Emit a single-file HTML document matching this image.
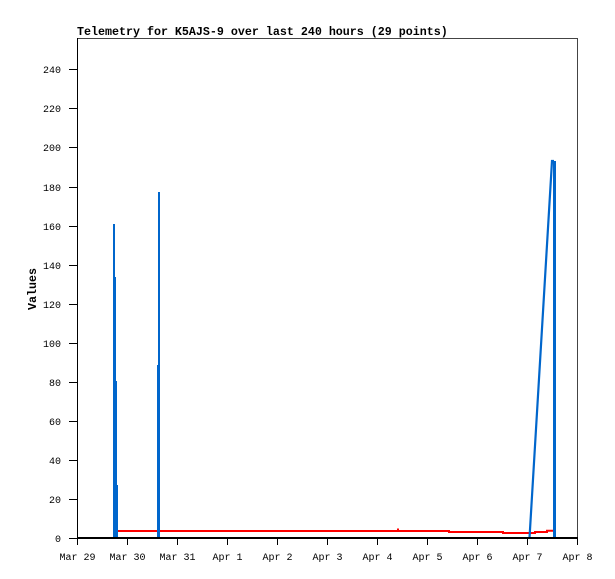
<!DOCTYPE html>
<html><head><meta charset="utf-8"><style>
html,body{margin:0;padding:0;background:#fff;}
svg{display:block;}
text{font-family:"Liberation Mono","DejaVu Sans Mono",monospace;fill:#000;}
</style></head><body>
<svg width="615" height="579" viewBox="0 0 615 579" xmlns="http://www.w3.org/2000/svg">
<rect width="615" height="579" fill="#fff"/>
<text x="77" y="35" font-size="11.67" font-weight="bold">Telemetry for K5AJS-9 over last 240 hours (29 points)</text>
<g shape-rendering="crispEdges">
<rect x="77" y="38" width="501" height="1" fill="#444"/>
<rect x="577" y="38" width="1" height="501" fill="#444"/>
<rect x="77" y="38" width="1" height="501" fill="#000"/>
</g>
<g shape-rendering="crispEdges" fill="#000">
<rect x="69" y="538" width="8" height="1"/>
<rect x="69" y="499" width="8" height="1"/>
<rect x="69" y="460" width="8" height="1"/>
<rect x="69" y="421" width="8" height="1"/>
<rect x="69" y="382" width="8" height="1"/>
<rect x="69" y="343" width="8" height="1"/>
<rect x="69" y="304" width="8" height="1"/>
<rect x="69" y="265" width="8" height="1"/>
<rect x="69" y="226" width="8" height="1"/>
<rect x="69" y="187" width="8" height="1"/>
<rect x="69" y="147" width="8" height="1"/>
<rect x="69" y="108" width="8" height="1"/>
<rect x="69" y="69" width="8" height="1"/>
</g>
<g font-size="10" text-anchor="end">
<text x="61" y="542">0</text>
<text x="61" y="503">20</text>
<text x="61" y="464">40</text>
<text x="61" y="425">60</text>
<text x="61" y="386">80</text>
<text x="61" y="347">100</text>
<text x="61" y="308">120</text>
<text x="61" y="269">140</text>
<text x="61" y="230">160</text>
<text x="61" y="191">180</text>
<text x="61" y="151">200</text>
<text x="61" y="112">220</text>
<text x="61" y="73">240</text>
</g>
<text transform="translate(36,289) rotate(-90)" font-size="11.67" font-weight="bold" text-anchor="middle">Values</text>
<path d="M114,531 H449 V532 H503 V533 H535 V532 H547 V530.7 H553" fill="none" stroke="#ff0000" stroke-width="2"/>
<rect x="397" y="528.5" width="2" height="2" fill="#ff0000"/>
<g fill="#0066cc" shape-rendering="crispEdges">
<rect x="113" y="224" width="2" height="314"/>
<rect x="114" y="277" width="2" height="261"/>
<rect x="115" y="381" width="2" height="104"/>
<rect x="116" y="485" width="2" height="53"/>
<rect x="158" y="192" width="2" height="346"/>
<rect x="157" y="365" width="2" height="173"/>
<rect x="553" y="161" width="3" height="377"/>
</g>
<path d="M529.5,538 L552,161 L554,161" fill="none" stroke="#0066cc" stroke-width="2.2"/>
<rect x="77" y="537" width="501" height="2" fill="#000" shape-rendering="crispEdges"/>
<g shape-rendering="crispEdges" fill="#000">
<rect x="77" y="538" width="1" height="7"/>
<rect x="127" y="538" width="1" height="7"/>
<rect x="177" y="538" width="1" height="7"/>
<rect x="227" y="538" width="1" height="7"/>
<rect x="277" y="538" width="1" height="7"/>
<rect x="327" y="538" width="1" height="7"/>
<rect x="377" y="538" width="1" height="7"/>
<rect x="427" y="538" width="1" height="7"/>
<rect x="477" y="538" width="1" height="7"/>
<rect x="527" y="538" width="1" height="7"/>
<rect x="577" y="538" width="1" height="7"/>
</g>
<g font-size="10" text-anchor="middle">
<text x="77.5" y="560">Mar 29</text>
<text x="127.5" y="560">Mar 30</text>
<text x="177.5" y="560">Mar 31</text>
<text x="227.5" y="560">Apr 1</text>
<text x="277.5" y="560">Apr 2</text>
<text x="327.5" y="560">Apr 3</text>
<text x="377.5" y="560">Apr 4</text>
<text x="427.5" y="560">Apr 5</text>
<text x="477.5" y="560">Apr 6</text>
<text x="527.5" y="560">Apr 7</text>
<text x="577.5" y="560">Apr 8</text>
</g>
</svg>
</body></html>
